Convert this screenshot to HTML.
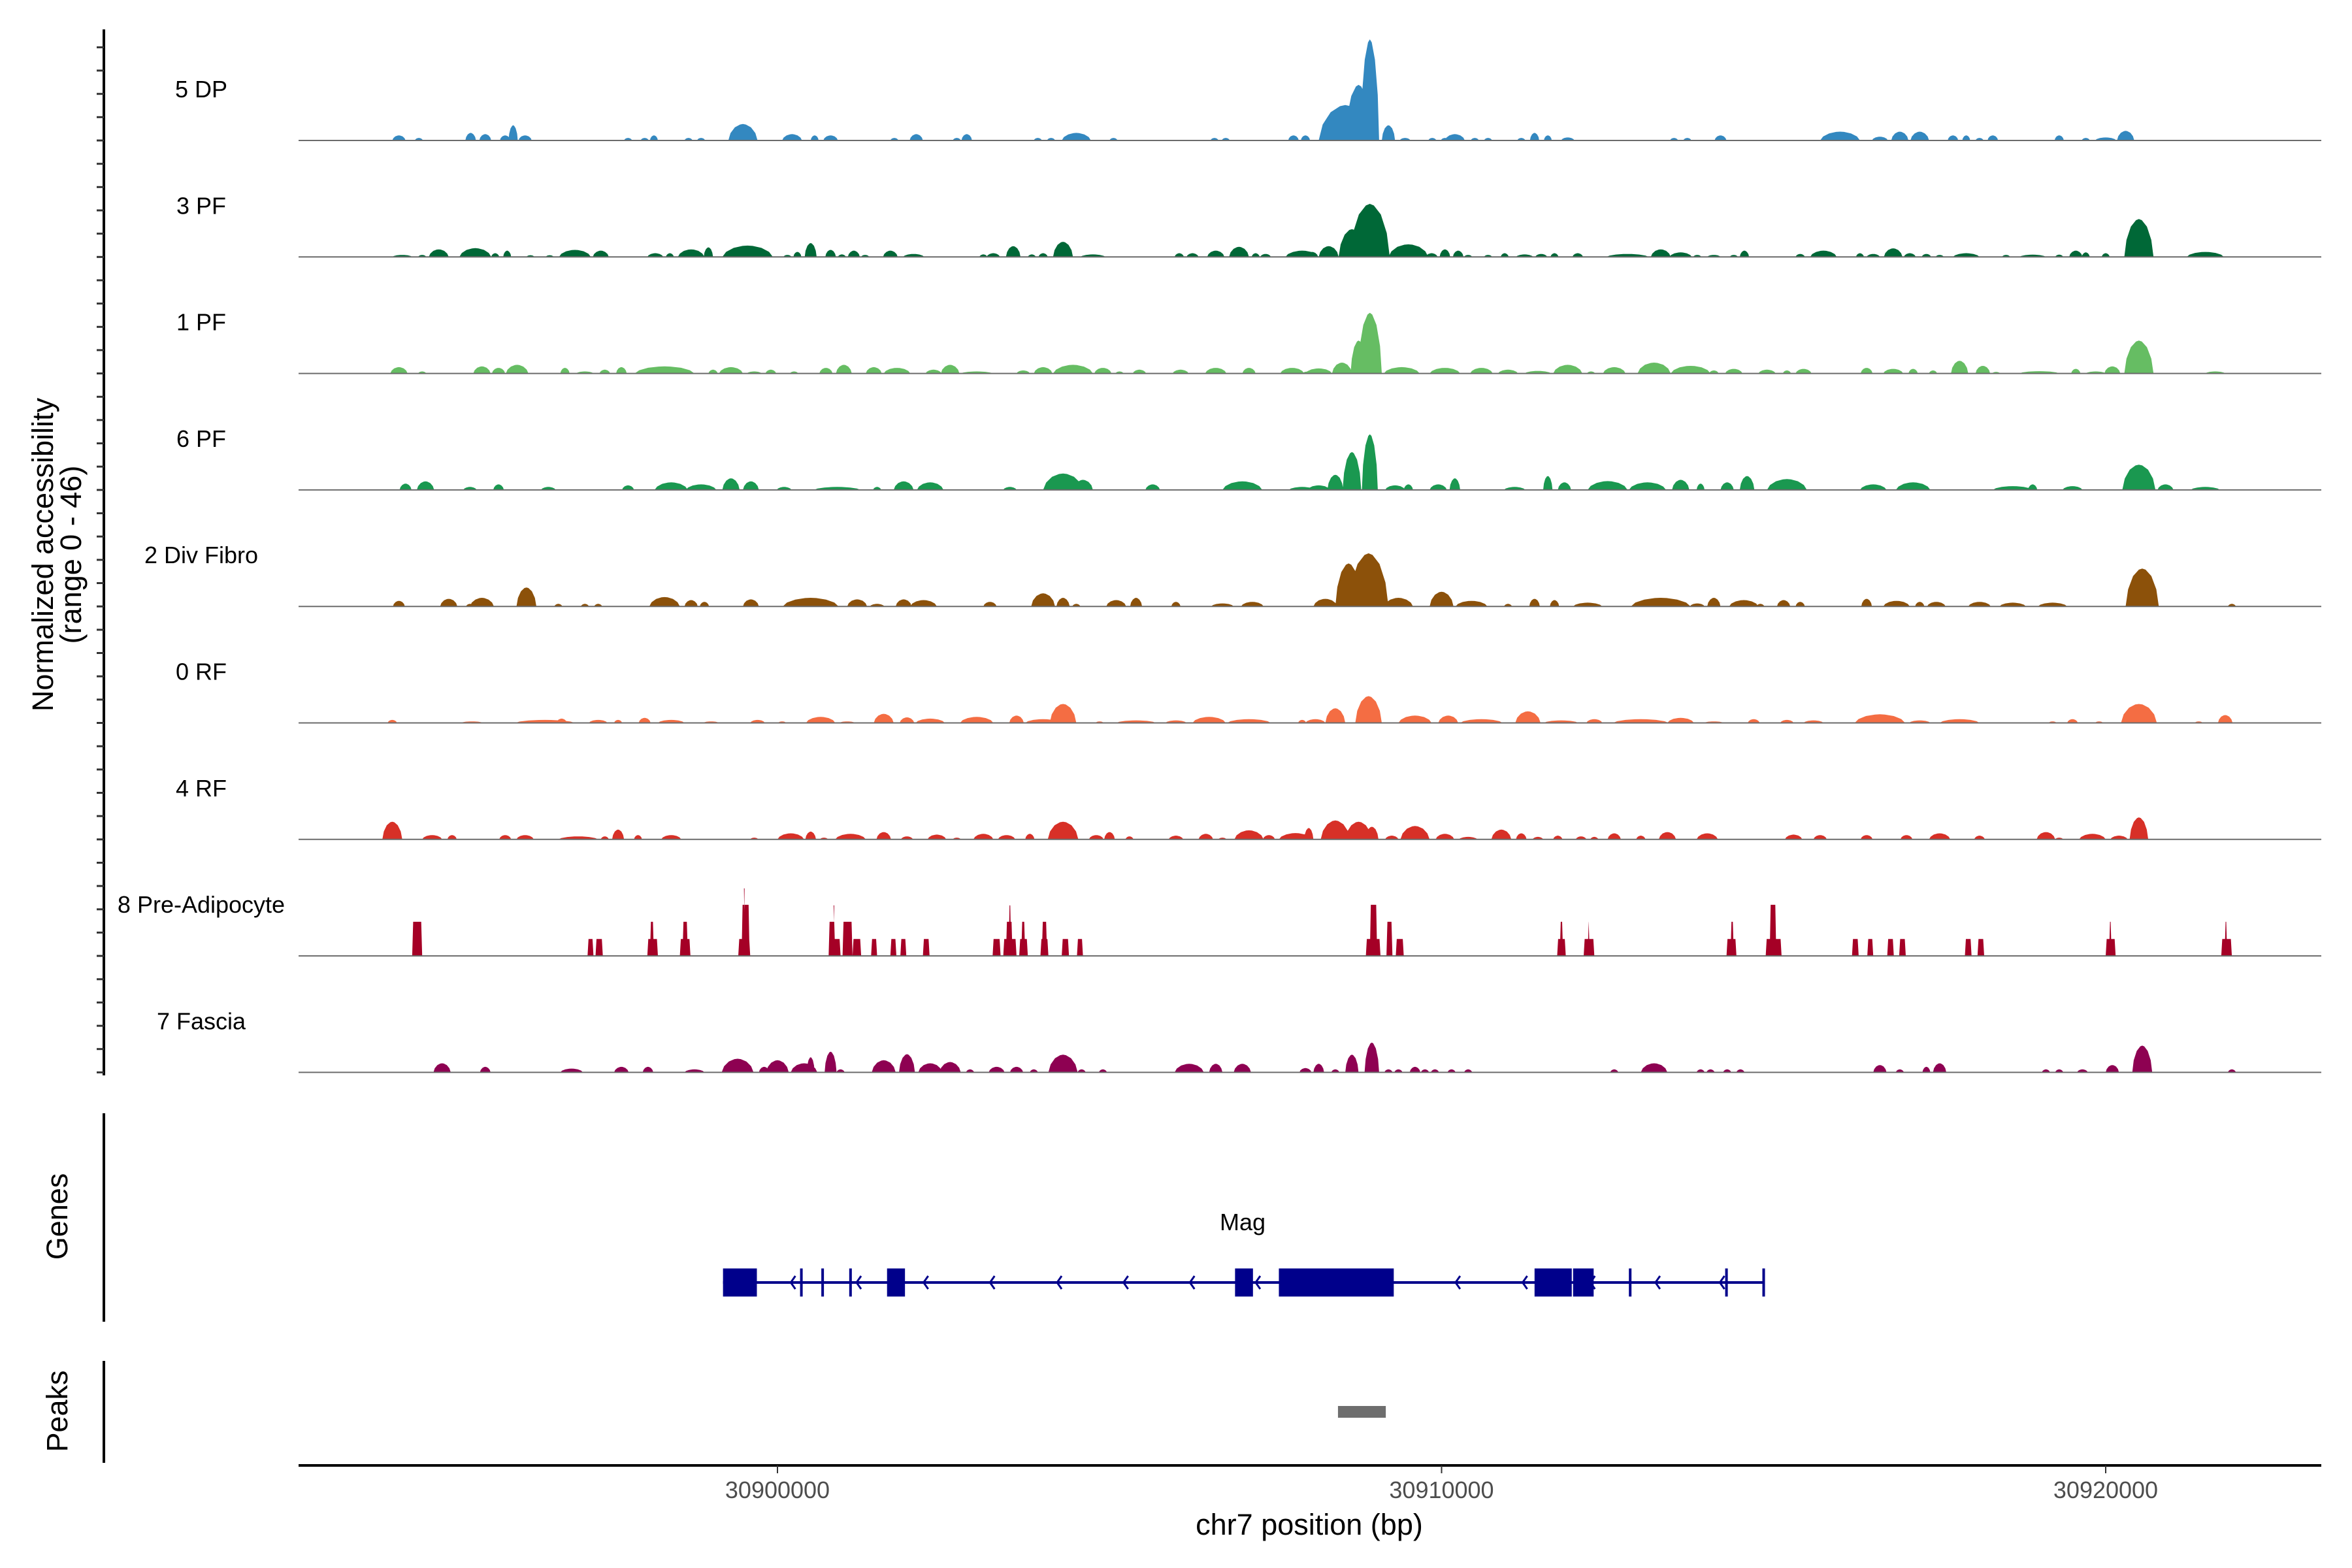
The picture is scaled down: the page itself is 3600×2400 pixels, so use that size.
<!DOCTYPE html>
<html><head><meta charset="utf-8"><style>
html,body{margin:0;padding:0;background:#fff;}
svg{display:block;font-family:"Liberation Sans",sans-serif;}
</style></head><body>
<svg id="chart" width="3600" height="2400" viewBox="0 0 3600 2400" xmlns="http://www.w3.org/2000/svg"></svg>
<script>
// ---- data (positions in kb relative to chr7:30,900,000; values in normalized accessibility) ----
const trackNames = ["5 DP","3 PF","1 PF","6 PF","2 Div Fibro","0 RF","4 RF","8 Pre-Adipocyte","7 Fascia"];
const trackColors = ["#3388c0","#006837","#66bd63","#1a9850","#8c510a","#f46d43","#d73027","#a50026","#8e0152"];
const xTickValues = [0,10,20];
const xTickLabels = ["30900000","30910000","30920000"];
const yRangeMax = 46;

const peaks5DP = [[-5.7,.1,2],[-5.4,.06,1],[-4.62,.08,3],[-4.4,.09,2.5],[-4.1,.08,2],[-3.98,.07,6],[-3.8,.1,2],[-2.25,.05,1],[-2.0,.05,1],[-1.86,.05,2],[-1.34,.05,1],[-1.15,.05,1],[-0.52,.22,6.5],[0.22,.15,2.5],[0.56,.05,2],[0.8,.11,2],[1.76,.05,1],[2.09,.1,2.5],[2.7,.06,1],[2.85,.08,2.5],[3.92,.05,1],[4.12,.05,1],[4.5,.22,3],[5.06,.05,1],[6.58,.05,1],[6.75,.05,1],[7.77,.08,2],[7.95,.07,2],[8.55,.4,14],[8.75,.2,22],[8.92,.14,40],[9.2,.1,6],[9.45,.08,1],[9.86,.05,1],[10.05,.05,1],[10.2,.15,2.5],[10.5,.05,1],[10.7,.05,1],[11.2,.06,1],[11.4,.07,3],[11.6,.06,2],[11.9,.1,1.2],[13.5,.05,1],[13.7,.05,1],[14.2,.09,2],[16.0,.3,3.5],[16.6,.12,1.5],[16.9,.13,3.5],[17.2,.14,3.5],[17.7,.08,2],[17.9,.05,2],[18.1,.05,1],[18.3,.08,2],[19.3,.07,2],[19.7,.05,1],[20.0,.16,1.2],[20.3,.13,3.8]];
const peaks3PF = [[-5.65,.15,.8],[-5.35,.06,.8],[-5.1,.15,3],[-4.55,.24,3.5],[-4.25,.06,1.5],[-4.07,.06,2.5],[-3.72,.05,.7],[-3.43,.05,.7],[-3.05,.24,2.8],[-2.66,.12,2.5],[-1.84,.12,1.5],[-1.62,.05,1.5],[-1.3,.2,3],[-1.04,.07,3.8],[-0.45,.38,4.5],[0.15,.06,.8],[0.3,.06,2],[0.5,.09,5.5],[0.8,.08,2.8],[0.97,.06,1],[1.15,.09,2.5],[1.32,.06,.8],[1.7,.11,2.5],[2.05,.16,1.2],[3.1,.06,1],[3.25,.1,1.5],[3.55,.11,4.3],[3.83,.06,1],[4.0,.07,1.5],[4.3,.15,6],[4.75,.19,1],[6.05,.07,1.5],[6.25,.09,1.5],[6.6,.13,2.5],[6.95,.15,4],[7.2,.06,1.5],[7.35,.08,1.2],[7.9,.25,2.5],[8.05,.09,2],[8.3,.15,4.3],[8.65,.2,11],[8.92,.3,21],[9.5,.3,5],[9.85,.09,1.5],[10.05,.08,3],[10.25,.08,2.5],[10.4,.06,.8],[10.7,.05,.8],[10.95,.06,1.5],[11.25,.13,1],[11.5,.09,1.2],[11.7,.05,1.5],[12.05,.08,1.5],[12.8,.32,1.2],[13.3,.15,3],[13.6,.17,1.8],[13.85,.06,.8],[14.1,.1,.8],[14.4,.06,.8],[14.56,.07,2.5],[15.4,.07,1.2],[15.75,.2,2.5],[16.3,.06,1.5],[16.5,.1,1.2],[16.8,.14,3.4],[17.05,.09,1.5],[17.3,.07,1.2],[17.5,.05,.8],[17.9,.2,1.5],[18.5,.06,.8],[18.9,.2,.9],[19.3,.06,.9],[19.55,.1,2.5],[19.7,.05,1.8],[20.0,.05,1.5],[20.5,.22,15],[21.5,.28,2]];
const peaks1PF = [[-5.7,.13,2.5],[-5.35,.06,.8],[-4.45,.13,2.8],[-4.2,.1,2.2],[-3.92,.17,3.4],[-3.2,.07,2.2],[-2.9,.13,.8],[-2.6,.08,1.5],[-2.35,.08,2.5],[-1.7,.45,2.8],[-0.97,.07,1.5],[-0.7,.18,2.5],[-0.35,.11,.8],[-0.1,.08,1.5],[0.25,.06,.8],[0.73,.1,2.2],[1.0,.12,3.4],[1.45,.12,2.5],[1.8,.2,2.2],[2.35,.12,1.5],[2.6,.14,3.4],[3.0,.24,.8],[3.7,.1,1.2],[4.0,.14,2.5],[4.45,.3,3.4],[4.9,.13,2.2],[5.15,.06,.8],[5.45,.1,1.5],[6.07,.12,1.5],[6.6,.16,2.2],[7.1,.1,2.2],[7.75,.18,2.2],[8.0,.1,.8],[8.15,.2,2],[8.5,.15,4.3],[8.75,.12,13],[8.92,.18,24],[9.4,.27,2.5],[10.05,.23,2.2],[10.6,.17,2.2],[11.0,.15,1.5],[11.45,.2,1],[11.9,.22,3.4],[12.25,.06,.8],[12.6,.17,2.5],[13.2,.25,4.3],[13.75,.3,3],[14.1,.07,1.2],[14.4,.13,1.8],[14.9,.13,1.5],[15.2,.06,1.2],[15.45,.12,1.8],[16.4,.09,2.2],[16.8,.15,1.8],[17.1,.07,1.8],[17.4,.06,1.2],[17.8,.13,5],[18.15,.11,3],[18.35,.04,.6],[19.0,.3,.9],[19.55,.07,1.8],[19.85,.15,.8],[20.1,.12,2.8],[20.5,.22,13],[21.65,.15,.8]];
const peaks6PF = [[-5.6,.09,2.5],[-5.3,.13,3.4],[-4.63,.1,1.2],[-4.2,.08,2.2],[-3.45,.11,1.2],[-2.25,.09,1.8],[-1.6,.25,3],[-1.15,.23,2.2],[-0.7,.13,4.6],[-0.4,.12,3.4],[0.1,.11,1.2],[0.9,.35,1.2],[1.5,.05,1.2],[1.9,.15,3.4],[2.3,.2,3],[3.5,.1,1.2],[4.3,.3,6.5],[4.6,.15,4],[5.65,.11,2.2],[7.0,.3,3.4],[7.9,.2,1.2],[8.15,.17,1.8],[8.4,.12,6],[8.65,.14,15],[8.92,.12,22],[9.3,.15,1.8],[9.5,.07,2.2],[9.95,.13,2.2],[10.2,.08,4.6],[11.1,.16,1.2],[11.6,.07,5.5],[11.85,.1,3],[12.5,.3,3.5],[13.1,.28,3],[13.6,.13,4],[13.9,.05,2.5],[14.3,.1,3],[14.6,.11,5.5],[15.2,.3,4.3],[16.5,.2,2.2],[17.1,.26,3],[18.6,.3,1.5],[18.9,.07,2.2],[19.5,.15,1.5],[20.5,.25,10],[20.9,.12,2.2],[21.5,.22,1.2]];
const peaks2DF = [[-5.7,.09,2.2],[-4.95,.13,3],[-4.63,.06,1],[-4.45,.18,3.4],[-3.78,.15,7.5],[-3.3,.06,1],[-2.9,.06,1],[-2.7,.06,1],[-1.7,.23,3.7],[-1.3,.1,2.5],[-1.1,.07,1.8],[-0.4,.12,2.8],[0.5,.42,3.4],[1.2,.15,2.8],[1.5,.11,1],[1.9,.12,2.8],[2.2,.2,2.5],[3.2,.1,1.8],[4.0,.18,5.2],[4.3,.1,3.4],[4.5,.05,1],[5.1,.15,2.5],[5.4,.09,3.4],[6.0,.07,1.8],[6.7,.17,1.2],[7.15,.17,1.8],[8.25,.18,3],[8.6,.2,17],[8.9,.3,21],[9.35,.22,3.4],[10.0,.18,5.8],[10.45,.24,2.2],[11.0,.06,1],[11.4,.08,3],[11.7,.07,2.5],[12.2,.22,1.5],[13.3,.45,3.4],[13.85,.11,1.2],[14.1,.1,3.4],[14.55,.22,2.5],[14.8,.05,1],[15.15,.1,2.5],[15.4,.07,1.8],[16.4,.08,3],[16.85,.2,2.2],[17.2,.07,1.8],[17.45,.14,1.8],[18.1,.17,1.8],[18.6,.2,1.5],[19.2,.22,1.5],[20.55,.25,15],[21.9,.03,1]];
const peaks0RF = [[-5.8,.07,1.2],[-4.6,.17,.6],[-3.5,.45,1.2],[-3.25,.08,1.7],[-2.7,.14,1.2],[-2.4,.06,1.2],[-2.0,.09,2],[-1.6,.2,1.2],[-1.0,.12,.6],[-0.3,.11,1.2],[0.07,.06,.6],[0.65,.22,2.4],[1.05,.12,.6],[1.6,.15,3.6],[1.95,.11,2.2],[2.3,.22,1.7],[3.0,.25,2.4],[3.6,.11,2.9],[4.0,.27,1.5],[4.3,.2,7.5],[4.85,.04,.6],[5.4,.3,1],[6.0,.16,1],[6.5,.25,2.4],[7.1,.33,1.5],[7.9,.05,1.2],[8.1,.15,1.5],[8.4,.15,5.8],[8.9,.2,10.6],[9.6,.25,2.9],[10.1,.15,2.9],[10.6,.32,1.5],[11.3,.19,4.6],[11.8,.26,1],[12.3,.12,1.5],[13.0,.42,1.5],[13.6,.2,2],[14.1,.15,.6],[14.7,.09,1.5],[15.2,.1,1.2],[15.6,.15,1],[16.6,.38,3.4],[17.2,.16,1],[17.8,.3,1.5],[19.2,.06,.6],[19.5,.08,1.5],[19.9,.05,.6],[20.5,.27,7.5],[21.4,.05,.6],[21.8,.11,3.1]];
const peaks4RF = [[-5.8,.15,7],[-5.2,.15,1.7],[-4.9,.07,1.7],[-4.1,.09,1.7],[-3.8,.13,1.7],[-3.0,.3,1.2],[-2.6,.05,1.2],[-2.4,.09,3.9],[-2.1,.05,1.7],[-1.6,.15,1.7],[-0.35,.06,.7],[0.2,.2,2.4],[0.5,.08,3.1],[0.7,.05,.7],[1.1,.23,2.2],[1.6,.11,2.9],[1.95,.09,1.2],[2.4,.14,1.9],[2.7,.05,.7],[3.1,.15,2.2],[3.45,.13,1.7],[3.8,.07,2.2],[4.3,.23,7],[4.8,.11,1.7],[5.0,.08,2.9],[5.3,.06,1.2],[6.0,.11,1.5],[6.45,.11,2.2],[6.7,.06,.7],[7.1,.22,3.6],[7.4,.09,1.7],[7.8,.25,2.5],[8.0,.07,4.5],[8.4,.22,7.5],[8.75,.2,7],[8.95,.1,5],[9.25,.1,1.5],[9.6,.22,5.3],[10.05,.14,2.2],[10.4,.14,1],[10.9,.15,3.9],[11.2,.08,2.4],[11.45,.08,1],[11.75,.07,1.5],[12.1,.08,1.2],[12.3,.06,1],[12.6,.1,2.4],[13.0,.07,1.5],[13.4,.13,2.9],[14.0,.16,2.4],[15.3,.13,1.9],[15.7,.1,1.7],[16.4,.09,1.7],[17.0,.09,1.7],[17.5,.16,2.4],[18.1,.08,1.5],[19.1,.14,2.9],[19.3,.05,.7],[19.8,.2,2.2],[20.2,.13,1.5],[20.5,.14,8.7]];
const blocksPreAd = [[-5.5,-5.35,13.5],[-2.86,-2.77,6.7],[-2.74,-2.63,6.7],[-1.96,-1.8,6.7],[-1.92,-1.86,13.5],[-1.47,-1.31,6.7],[-1.43,-1.35,13.5],[-0.59,-0.41,6.7],[-0.54,-0.42,20.2],[-0.51,-0.49,26.7],[0.77,0.95,6.7],[0.77,0.87,13.5],[0.84,0.86,20],[0.98,1.13,13.5],[1.13,1.26,6.7],[1.41,1.5,6.7],[1.7,1.79,6.7],[1.85,1.94,6.7],[2.19,2.29,6.7],[3.24,3.36,6.7],[3.4,3.6,6.7],[3.44,3.54,13.5],[3.48,3.52,20],[3.64,3.77,6.7],[3.67,3.73,13.5],[3.96,4.08,6.7],[3.98,4.06,13.5],[4.28,4.39,6.7],[4.51,4.6,6.7],[8.86,9.08,6.7],[8.92,9.03,20.2],[9.17,9.26,13.5],[9.31,9.43,6.7],[11.74,11.87,6.7],[11.78,11.83,13.5],[12.14,12.3,6.7],[12.2,12.23,13.5],[14.29,14.44,6.7],[14.35,14.4,13.5],[14.88,15.12,6.7],[14.94,15.04,20.2],[16.18,16.28,6.7],[16.41,16.5,6.7],[16.71,16.81,6.7],[16.89,16.99,6.7],[17.88,17.98,6.7],[18.07,18.17,6.7],[20.0,20.15,6.7],[20.05,20.09,13.5],[21.74,21.9,6.7],[21.79,21.83,13.5]];
const peaks7F = [[-5.05,.13,3.6],[-4.4,.08,2.2],[-3.1,.17,1.5],[-2.35,.11,2.2],[-1.95,.08,2.2],[-1.25,.15,1.2],[-0.6,.24,5.4],[-0.2,.08,2.2],[0.0,.17,4.8],[0.4,.2,3.6],[0.5,.04,6],[0.8,.09,8.2],[0.95,.04,1.2],[1.6,.18,4.8],[1.95,.12,7.2],[2.3,.18,3.6],[2.6,.16,4.1],[2.9,.05,1.2],[3.3,.12,2.2],[3.6,.1,2.2],[3.86,.05,1.2],[4.3,.22,7],[4.58,.05,1.2],[4.9,.05,1.2],[6.2,.22,3.4],[6.6,.1,3.4],[7.0,.13,3.4],[7.95,.09,1.7],[8.15,.08,3.4],[8.4,.06,1.2],[8.65,.1,7],[8.95,.11,11.8],[9.2,.05,1.2],[9.35,.06,1.2],[9.6,.08,2.2],[9.75,.05,1.2],[9.9,.04,1.2],[10.15,.05,1.2],[10.4,.05,1.2],[12.6,.05,1.2],[13.2,.2,3.6],[13.9,.06,1.2],[14.05,.04,1.2],[14.3,.05,1.2],[14.5,.05,1.2],[16.6,.1,2.9],[16.9,.04,1.2],[17.3,.06,2.2],[17.5,.1,3.6],[19.1,.05,1.2],[19.3,.06,1.2],[19.65,.08,1.2],[20.1,.1,2.9],[20.55,.15,10.6],[21.9,.04,1.2]];
const trackPeaks = [peaks5DP,peaks3PF,peaks1PF,peaks6PF,peaks2DF,peaks0RF,peaks4RF,null,peaks7F];

// gene model (kb offsets)
const geneSpan = [-0.82,14.85];
const geneExons = [[-0.82,-0.31],[1.65,1.92],[6.89,7.16],[7.55,9.28],[11.40,11.96],[11.98,12.29]];
const geneThinExons = [0.36,0.68,1.10,12.84,14.29,14.85];
const geneArrows = [0.23,1.22,2.23,3.23,4.24,5.24,6.24,7.23,10.24,11.25,12.27,13.25,14.22];
const peakRegions = [[8.44,9.16]];

// ---- scales ----
const svg = document.getElementById('chart');
const NS = 'http://www.w3.org/2000/svg';
const X0 = 1190, PXKB = 101.65, LEFT = 457, RIGHT = 3553;
const BASE0 = 215, TRACK_STEP = 178.3, PXV = 178/yRangeMax;
function xs(kb){ return X0 + kb*PXKB; }
function ys(i, v){ return BASE0 + i*TRACK_STEP - v*PXV; }
function mk(tag, attrs, parent){
  const e = document.createElementNS(NS, tag);
  for (const k in attrs) e.setAttribute(k, attrs[k]);
  (parent||svg).appendChild(e);
  return e;
}

// tracks
trackNames.forEach((name, i) => {
  const g = mk('g', {});
  
  
  const base = ys(i, 0);
  const lab = mk('text', {x: 308, y: base - 66, 'font-size': 36, 'text-anchor': 'middle', fill: '#000'}, g);
  lab.textContent = name;
  
  
  const col = trackColors[i];
  let d = '';
  if (trackPeaks[i]) {
    trackPeaks[i].forEach(p => {
      const c = p[0], w = Math.max(p[1], 0.06), v = p[2];
      const pts = [[c-w,0],[c-w*0.85,v*0.45],[c-w*0.55,v*0.8],[c-w*0.2,v*0.97],[c,v],[c+w*0.2,v*0.97],[c+w*0.55,v*0.8],[c+w*0.85,v*0.45],[c+w,0]];
      d += 'M' + pts.map(q => xs(q[0]).toFixed(1) + ',' + ys(i, q[1]).toFixed(1)).join('L') + 'Z';
    });
  } else {
    blocksPreAd.forEach(b => {
      const x1 = xs(b[0]), x2 = xs(b[1]), yt = ys(i, b[2]);
      d += 'M' + x1.toFixed(1) + ',' + base + 'L' + (x1+1.5).toFixed(1) + ',' + yt.toFixed(1) + 'L' + (x2-1.5).toFixed(1) + ',' + yt.toFixed(1) + 'L' + x2.toFixed(1) + ',' + base + 'Z';
    });
  }
  const path = mk('path', {d: d, fill: col}, g);
  
  
  const bl = mk('line', {x1: LEFT, x2: RIGHT, y1: base, y2: base, stroke: '#6b6b6b', 'stroke-width': 2}, g);
  
  
});

// left y axis with ticks
const yAxis = mk('line', {x1: 159, x2: 159, y1: 45, y2: 1646, stroke: '#000', 'stroke-width': 4});


for (let y = ys(8, 0); y >= 45; y -= TRACK_STEP/5) {
  const t = mk('line', {x1: 148, x2: 159, y1: y.toFixed(1), y2: y.toFixed(1), stroke: '#333', 'stroke-width': 3});
  
  
}
</script>
<script>
// static parts: titles, genes, peaks, x axis
(function(){
  function txt(x, y, str, size, attrs, name){
    const t = mk('text', Object.assign({x: x, y: y, 'font-size': size, 'text-anchor': 'middle', fill: '#000'}, attrs||{}));
    t.textContent = str;
    
    
    return t;
  }
  txt(81, 849, 'Normalized accessibility', 45, {transform: 'rotate(-90 81 849)'}, 'y-axis-title');
  txt(124, 849, '(range 0 - 46)', 45, {transform: 'rotate(-90 124 849)'}, 'y-axis-subtitle');
  txt(103, 1862, 'Genes', 45, {transform: 'rotate(-90 103 1862)'}, 'genes-title');
  txt(103, 2160, 'Peaks', 45, {transform: 'rotate(-90 103 2160)'}, 'peaks-title');

  const ga = mk('line', {x1: 159, x2: 159, y1: 1704, y2: 2023, stroke: '#000', 'stroke-width': 4});
  
  
  const pa = mk('line', {x1: 159, x2: 159, y1: 2083, y2: 2239, stroke: '#000', 'stroke-width': 4});
  
  

  const gg = mk('g', {});
  
  
  const GY = 1963, EH = 43, GC = '#00008b';
  mk('line', {x1: xs(geneSpan[0]), x2: xs(geneSpan[1]), y1: GY, y2: GY, stroke: GC, 'stroke-width': 4}, gg);
  geneArrows.forEach(a => {
    const x = xs(a);
    const p = mk('path', {d: 'M' + (x+4) + ',' + (GY-10) + 'L' + (x-3) + ',' + GY + 'L' + (x+4) + ',' + (GY+10), fill: 'none', stroke: GC, 'stroke-width': 3}, gg);
    
    
  });
  geneExons.forEach(e => {
    const r = mk('rect', {x: xs(e[0]), y: GY - EH/2, width: xs(e[1]) - xs(e[0]), height: EH, fill: GC}, gg);
    
    
  });
  geneThinExons.forEach(e => {
    const r = mk('rect', {x: xs(e) - 2, y: GY - EH/2, width: 4, height: EH, fill: GC}, gg);
    
    
  });
  const gl = mk('text', {x: 1902, y: 1883, 'font-size': 36, 'text-anchor': 'middle', fill: '#000'}, gg);
  gl.textContent = 'Mag';
  
  

  peakRegions.forEach(p => {
    const r = mk('rect', {x: xs(p[0]), y: 2152, width: xs(p[1]) - xs(p[0]), height: 18, fill: '#6e6e6e'});
    
    
  });

  const xa = mk('line', {x1: LEFT, x2: RIGHT, y1: 2243, y2: 2243, stroke: '#000', 'stroke-width': 4});
  
  
  xTickValues.forEach((v, k) => {
    const x = xs(v);
    const t = mk('line', {x1: x, x2: x, y1: 2243, y2: 2255, stroke: '#333', 'stroke-width': 2});
    
    
    txt(x, 2293, xTickLabels[k], 36, {fill: '#4d4d4d'}, 'x-tick-label');
  });
  txt(2004, 2349, 'chr7 position (bp)', 45, {}, 'x-axis-title');
})();
</script>
</body></html>
